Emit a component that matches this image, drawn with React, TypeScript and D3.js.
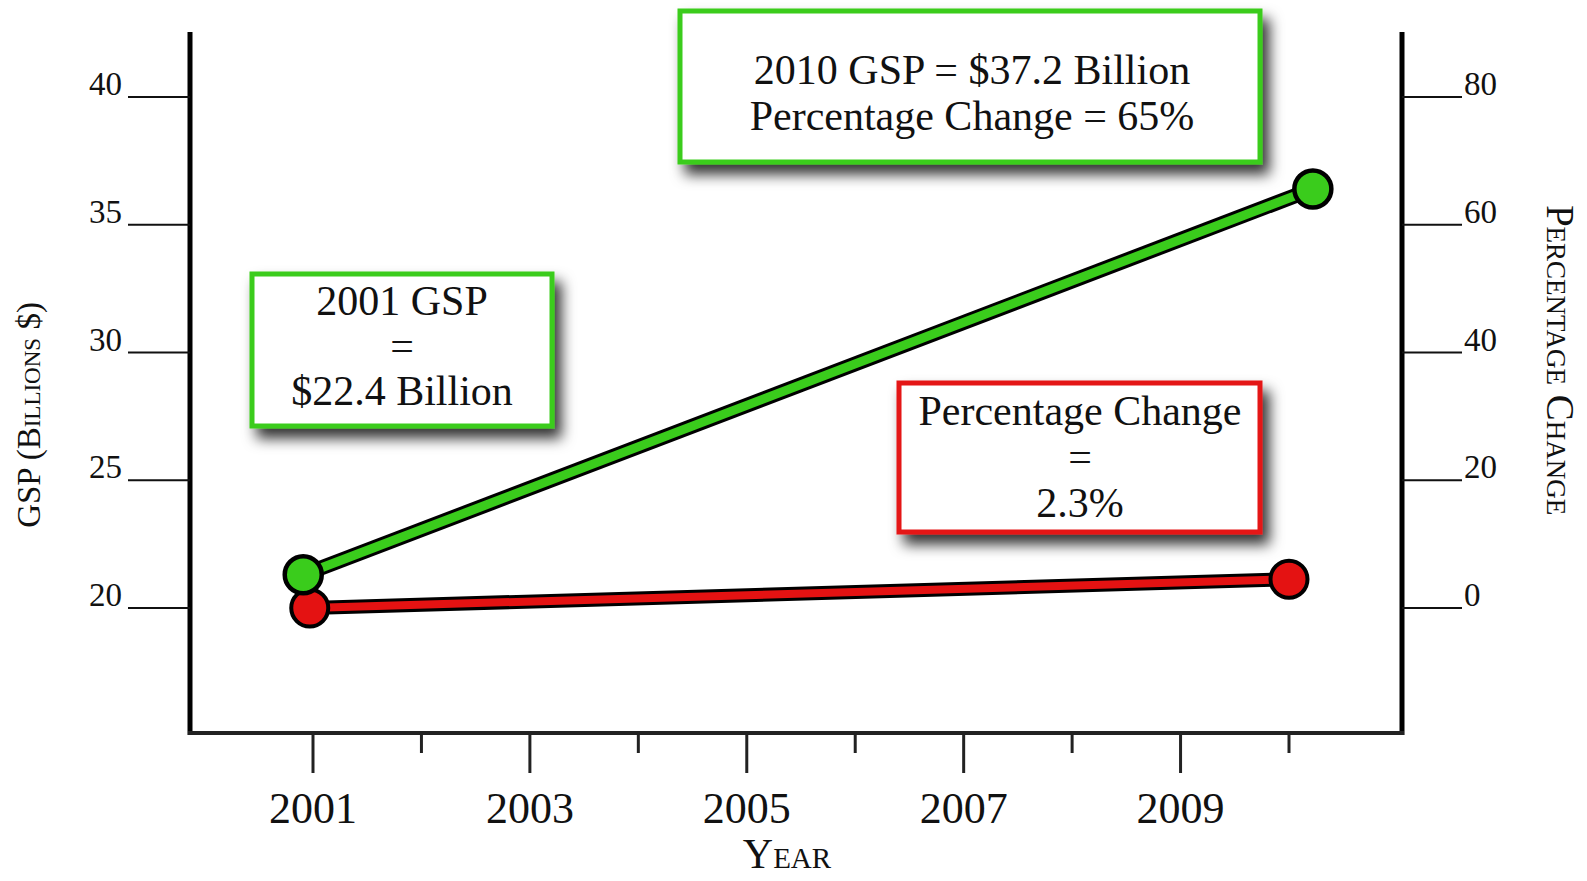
import React from "react";
import * as d3 from "d3";

const majorYears = [2001, 2003, 2005, 2007, 2009];
const minorYears = [2002, 2004, 2006, 2008, 2010];
const leftTicks = [20, 25, 30, 35, 40];
const rightTicks = [0, 20, 40, 60, 80];

// GSP series (left axis, billions $) as plotted
const gspYears = [2000.91, 2010.22];
const gspValues = [21.3, 36.4];
// Percentage change series (right axis, %) as plotted
const pctYears = [2000.97, 2010];
const pctValues = [0, 4.5];

const FONT = "'Liberation Serif', 'Times New Roman', Times, serif";
const GREEN = "#3acc1c";
const RED = "#e41212";

export default function App() {
  const W = 1587, H = 881;
  const x = d3.scaleLinear().domain([2001, 2010]).range([313, 1289]);
  const yL = d3.scaleLinear().domain([20, 40]).range([608, 97]);
  const yR = d3.scaleLinear().domain([0, 80]).range([608, 97]);

  const gspPts: [number, number][] = gspYears.map((yr, i) => [x(yr), yL(gspValues[i])]);
  const pctPts: [number, number][] = pctYears.map((yr, i) => [x(yr), yR(pctValues[i])]);
  const line = d3.line<[number, number]>().x(d => d[0]).y(d => d[1]);

  const axL = 190, axR = 1402, axB = 733, axT = 32;

  const box = (x0: number, y0: number, x1: number, y1: number, color: string) => (
    <rect x={x0} y={y0} width={x1 - x0} height={y1 - y0} fill="#fff" stroke={color} strokeWidth={5} filter="url(#shadow)" />
  );

  return (
    <svg width={W} height={H} style={{ position: "absolute", left: 0, top: 0, background: "#fff" }} fontFamily={FONT}>
      <defs>
        <filter id="shadow" x="-15%" y="-15%" width="140%" height="160%">
          <feDropShadow dx={7} dy={10} stdDeviation={7} floodColor="#000" floodOpacity={0.8} />
        </filter>
      </defs>
      <rect x={0} y={0} width={W} height={H} fill="#fff" />

      {/* axes */}
      <line x1={axL} y1={axT} x2={axL} y2={axB + 2} stroke="#000" strokeWidth={5} />
      <line x1={axR} y1={axT} x2={axR} y2={axB + 2} stroke="#000" strokeWidth={5} />
      <line x1={axL - 2} y1={axB} x2={axR + 2} y2={axB} stroke="#222" strokeWidth={4} />

      {leftTicks.map(v => (
        <g key={"l" + v}>
          <line x1={128} x2={axL} y1={yL(v)} y2={yL(v)} stroke="#111" strokeWidth={2} />
          <text x={122} y={yL(v) - 2} textAnchor="end" fontSize={33} fill="#111">{v}</text>
        </g>
      ))}
      {rightTicks.map(v => (
        <g key={"r" + v}>
          <line x1={axR} x2={1462} y1={yR(v)} y2={yR(v)} stroke="#111" strokeWidth={2} />
          <text x={1464} y={yR(v) - 2} textAnchor="start" fontSize={33} fill="#111">{v}</text>
        </g>
      ))}
      {majorYears.map(v => (
        <g key={"M" + v}>
          <line x1={x(v)} x2={x(v)} y1={axB} y2={773} stroke="#222" strokeWidth={3} />
          <text x={x(v)} y={823} textAnchor="middle" fontSize={44} fill="#111">{v}</text>
        </g>
      ))}
      {minorYears.map(v => (
        <line key={"m" + v} x1={x(v)} x2={x(v)} y1={axB} y2={753} stroke="#222" strokeWidth={3} />
      ))}

      {/* axis titles */}
      <text x={787} y={868} textAnchor="middle" fontSize={42} fill="#111" style={{ fontVariant: "small-caps" }}>Year</text>
      <text transform="translate(40,415) rotate(-90)" textAnchor="middle" fontSize={33} fill="#111" style={{ fontVariant: "small-caps" }}>GSP (Billions $)</text>
      <text transform="translate(1547,360) rotate(90)" textAnchor="middle" fontSize={39} fill="#111" style={{ fontVariant: "small-caps" }}>Percentage Change</text>

      {/* boxes */}
      {box(680, 11, 1260, 162, GREEN)}
      <text x={972} y={84} textAnchor="middle" fontSize={42} fill="#111">2010 GSP = $37.2 Billion</text>
      <text x={972} y={130} textAnchor="middle" fontSize={42} fill="#111">Percentage Change = 65%</text>

      {box(252, 274, 552, 426, GREEN)}
      <text x={402} y={315} textAnchor="middle" fontSize={42} fill="#111">2001 GSP</text>
      <text x={402} y={360} textAnchor="middle" fontSize={42} fill="#111">=</text>
      <text x={402} y={405} textAnchor="middle" fontSize={42} fill="#111">$22.4 Billion</text>

      {box(899, 383, 1260, 532, RED)}
      <text x={1080} y={425} textAnchor="middle" fontSize={42} fill="#111">Percentage Change</text>
      <text x={1080} y={471} textAnchor="middle" fontSize={42} fill="#111">=</text>
      <text x={1080} y={517} textAnchor="middle" fontSize={42} fill="#111">2.3%</text>

      {/* red series */}
      <path d={line(pctPts) || ""} stroke="#000" strokeWidth={14} fill="none" />
      <path d={line(pctPts) || ""} stroke={RED} strokeWidth={8} fill="none" />
      {pctPts.map((p, i) => (
        <circle key={"rc" + i} cx={p[0]} cy={p[1]} r={18.5} fill={RED} stroke="#000" strokeWidth={4} />
      ))}

      {/* green series */}
      <path d={line(gspPts) || ""} stroke="#000" strokeWidth={15} fill="none" />
      <path d={line(gspPts) || ""} stroke={GREEN} strokeWidth={9} fill="none" />
      {gspPts.map((p, i) => (
        <circle key={"gc" + i} cx={p[0]} cy={p[1]} r={18.5} fill={GREEN} stroke="#000" strokeWidth={4.5} />
      ))}
    </svg>
  );
}
